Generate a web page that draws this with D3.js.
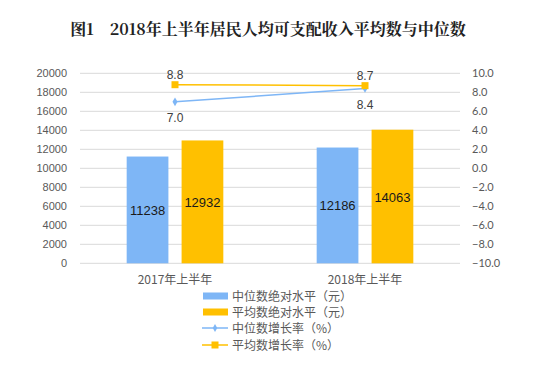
<!DOCTYPE html>
<html><head><meta charset="utf-8">
<script src="https://cdn.jsdelivr.net/npm/d3@7"></script>
<style>
body{margin:0;background:#fff;}
text{font-family:"Noto Sans CJK SC","Noto Sans",sans-serif;}
</style></head>
<body><svg id="c" width="538" height="368"></svg>
<script>
const title = "图1\u00a0\u00a0\u00a0\u00a02018年上半年居民人均可支配收入平均数与中位数";
const categories = ["2017年上半年","2018年上半年"];
const medianLevel = [11238, 12186];
const meanLevel = [12932, 14063];
const medianGrowth = [7.0, 8.4];
const meanGrowth = [8.8, 8.7];
const leftTicks = [0,2000,4000,6000,8000,10000,12000,14000,16000,18000,20000];
const rightTicks = [-10,-8,-6,-4,-2,0,2,4,6,8,10];
const legendNames = ["中位数绝对水平（元）","平均数绝对水平（元）","中位数增长率（%）","平均数增长率（%）"];

const blue = "#7EB6F6", orange = "#FFC000";
const svg = d3.select("#c");
const L = 80, R = 460, T = 73.3, B = 263.3;

svg.append("text").attr("x", 268).attr("y", 35).attr("text-anchor","middle")
  .attr("font-size", 16).attr("font-weight","bold").attr("fill","#222")
  .style("font-family", "'Noto Serif CJK SC','Liberation Serif','Noto Sans CJK SC',serif")
  .text(title);

const x = d3.scaleBand().domain(categories).range([L, R]);
const yL = d3.scaleLinear().domain([0, 20000]).range([B, T]);
const yR = d3.scaleLinear().domain([-10, 10]).range([B, T]);

// gridlines
svg.append("g").selectAll("line").data(leftTicks).join("line")
  .attr("x1", L).attr("x2", R).attr("y1", d => yL(d)).attr("y2", d => yL(d))
  .attr("stroke", "#d9d9d9").attr("stroke-width", 1);

// left axis
const gl = svg.append("g").attr("transform", `translate(${L},0)`)
  .call(d3.axisLeft(yL).tickValues(leftTicks).tickSize(0).tickPadding(13).tickFormat(d3.format("d")));
gl.select(".domain").remove();
gl.selectAll("text").attr("font-size", 11).attr("fill", "#595959").style("font-family","'Liberation Sans',Arial,sans-serif");

// right axis
const gr = svg.append("g").attr("transform", `translate(${R},0)`)
  .call(d3.axisRight(yR).tickValues(rightTicks).tickSize(0).tickPadding(12).tickFormat(d3.format(".1f")));
gr.select(".domain").remove();
gr.selectAll("text").attr("font-size", 11).attr("fill", "#595959").style("font-family","Lato,'Liberation Sans',sans-serif");

// x labels
const gx = svg.append("g").attr("transform", `translate(0,${B})`)
  .call(d3.axisBottom(x).tickSize(0).tickPadding(12));
gx.select(".domain").remove();
gx.selectAll("text").attr("font-size", 12).attr("fill", "#595959");

// bars
const sub = d3.scaleBand().domain(["m","a"]).range([0, x.bandwidth()]).paddingInner(0.24).paddingOuter(0.85);
const bars = [];
categories.forEach((c, i) => {
  bars.push({c, k:"m", v: medianLevel[i], col: blue});
  bars.push({c, k:"a", v: meanLevel[i], col: orange});
});
svg.append("g").selectAll("rect").data(bars).join("rect")
  .attr("x", d => x(d.c) + sub(d.k)).attr("width", sub.bandwidth())
  .attr("y", d => yL(d.v)).attr("height", d => yL(0) - yL(d.v))
  .attr("fill", d => d.col);
svg.append("g").selectAll("text").data(bars).join("text")
  .attr("x", d => x(d.c) + sub(d.k) + sub.bandwidth()/2)
  .attr("y", d => (yL(d.v) + yL(0))/2 + 5)
  .attr("text-anchor","middle").attr("font-size", 13).attr("fill","#1a1a1a")
  .style("font-family","'Liberation Sans',Arial,sans-serif")
  .text(d => d.v);

// lines
const cx = c => x(c) + x.bandwidth()/2;
const line = d3.line().x(d => cx(d.c)).y(d => yR(d.v));
const mg = categories.map((c,i) => ({c, v: medianGrowth[i]}));
const ag = categories.map((c,i) => ({c, v: meanGrowth[i]}));
svg.append("path").datum(mg).attr("d", line).attr("fill","none").attr("stroke", blue).attr("stroke-width", 1.5);
svg.append("path").datum(ag).attr("d", line).attr("fill","none").attr("stroke", orange).attr("stroke-width", 1.5);
svg.append("g").selectAll("path").data(mg).join("path")
  .attr("d", d3.symbol(d3.symbolDiamond, 22)).attr("transform", d => `translate(${cx(d.c)},${yR(d.v)})`).attr("fill", blue);
svg.append("g").selectAll("rect").data(ag).join("rect")
  .attr("x", d => cx(d.c) - 3.5).attr("y", d => yR(d.v) - 3.5).attr("width", 7).attr("height", 7).attr("fill", orange);
svg.append("g").selectAll("text").data(mg).join("text")
  .attr("x", d => cx(d.c)).attr("y", d => yR(d.v) + 20)
  .attr("text-anchor","middle").attr("font-size", 12).attr("fill","#404040")
  .style("font-family","'Liberation Sans',Arial,sans-serif")
  .text(d => d3.format(".1f")(d.v));
svg.append("g").selectAll("text").data(ag).join("text")
  .attr("x", d => cx(d.c)).attr("y", d => yR(d.v) - 6)
  .attr("text-anchor","middle").attr("font-size", 12).attr("fill","#404040")
  .style("font-family","'Liberation Sans',Arial,sans-serif")
  .text(d => d3.format(".1f")(d.v));

// legend
const ly = [296, 312, 328, 345];
const lg = svg.append("g");
legendNames.forEach((n, i) => {
  const y = ly[i];
  if (i < 2) {
    lg.append("rect").attr("x", 203).attr("y", y - 3.5).attr("width", 25).attr("height", 7).attr("fill", i === 0 ? blue : orange);
  } else {
    const col = i === 2 ? blue : orange;
    lg.append("line").attr("x1", 202).attr("x2", 228).attr("y1", y).attr("y2", y).attr("stroke", col).attr("stroke-width", 1.5);
    if (i === 2) lg.append("path").attr("d", d3.symbol(d3.symbolDiamond, 18)).attr("transform", `translate(215,${y})`).attr("fill", col);
    else lg.append("rect").attr("x", 211.5).attr("y", y - 3.5).attr("width", 7).attr("height", 7).attr("fill", col);
  }
  lg.append("text").attr("x", 232).attr("y", y + 4.5).attr("font-size", 12).attr("fill", "#595959").text(n);
});
</script></body></html>
